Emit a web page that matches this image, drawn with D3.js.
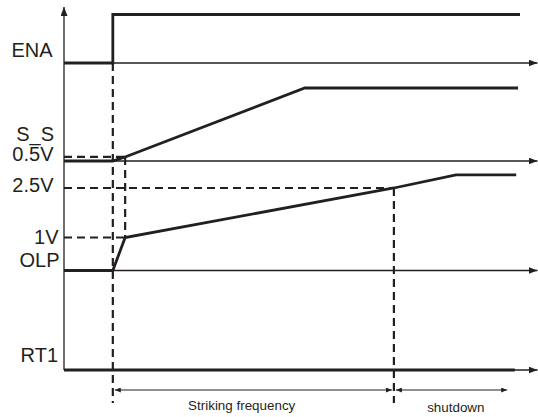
<!DOCTYPE html>
<html>
<head>
<meta charset="utf-8">
<script src="https://cdn.jsdelivr.net/npm/d3@7/dist/d3.min.js"></script>
<style>
  html, body { margin: 0; padding: 0; background: #fff; }
  svg { display: block; }
  text { font-family: "Liberation Sans", Arial, Helvetica, sans-serif; fill: #231f20; }
</style>
</head>
<body>
<svg id="chart" width="538" height="417"></svg>
<script>
// ---------------- DATA (time in % of sweep, levels in signal units) ----------------
const channels = ["ENA", "S_S", "OLP", "RT1"];
// ENA: logic 0/1
const enaTimes  = [0, 10.3, 10.3, 96.2];
const enaValues = [0, 0, 1, 1];
// S_S soft-start voltage
const ssTimes  = [0, 10.3, 12.9, 50.8, 95.8];
const ssValues = [0, 0, 0.5, 9, 9];
// OLP voltage
const olpTimes  = [0, 10.3, 12.9, 69.6, 82.7, 95.4];
const olpValues = [0, 0, 1, 2.5, 2.9, 2.9];
// RT1
const rt1Times  = [0, 95.1];
const rt1Values = [0, 0];
// Level labels
const levelLabels = ["ENA", "S_S", "0.5V", "2.5V", "1V", "OLP", "RT1"];
// Reference (dashed) levels
const ssRef   = { value: 0.5, time: 12.9 };
const olpRef1 = { value: 1,   time: 12.9 };
const olpRef2 = { value: 2.5, time: 69.6 };
const markerTimes = [10.3, 12.9, 69.6];
// Intervals
const intervalNames = ["Striking frequency", "shutdown"];
const intervalStart = [10.3, 69.6];
const intervalEnd   = [69.6, 93.5];

// ---------------- LAYOUT ----------------
const ink = "#231f20";
const svg = d3.select("#chart");
const x = d3.scaleLinear().domain([0, 100]).range([64, 538]);
const yENA = d3.scaleLinear().domain([0, 1]).range([63, 14.5]);
const ySS  = d3.scaleLinear().domain([0, 9]).range([161, 88]);
const yOLP = d3.scaleLinear().domain([0, 3]).range([270.5, 171.5]);
const yRT1 = d3.scaleLinear().domain([0, 1]).range([370, 330]);
const chanScales = [yENA, ySS, yOLP, yRT1];

const defs = svg.append("defs");
function arrowMarker(id, w, h) {
  defs.append("marker").attr("id", id)
    .attr("viewBox", `0 0 ${w} ${h}`).attr("refX", w).attr("refY", h / 2)
    .attr("markerWidth", w).attr("markerHeight", h)
    .attr("markerUnits", "userSpaceOnUse").attr("orient", "auto-start-reverse")
    .append("path").attr("d", `M0,0L${w},${h / 2}L0,${h}Z`).attr("fill", ink);
}
arrowMarker("ax", 9, 7);
arrowMarker("dim", 6, 5);

// vertical axis
svg.append("line").attr("x1", x(0)).attr("x2", x(0))
  .attr("y1", yRT1(0)).attr("y2", 7)
  .attr("stroke", ink).attr("stroke-width", 1.3).attr("marker-end", "url(#ax)");

// horizontal axes
chanScales.forEach(s => {
  svg.append("line").attr("x1", x(0)).attr("x2", x(100) - 0.5)
    .attr("y1", s(0)).attr("y2", s(0))
    .attr("stroke", ink).attr("stroke-width", 1.3).attr("marker-end", "url(#ax)");
});

// dashed guides
const dash = { "stroke": ink, "stroke-width": 2.2, "stroke-dasharray": "8,5", "fill": "none" };
function dashed(x1, y1, x2, y2) {
  const l = svg.append("line").attr("x1", x1).attr("y1", y1).attr("x2", x2).attr("y2", y2);
  Object.entries(dash).forEach(([k, v]) => l.attr(k, v));
}
dashed(x(markerTimes[0]), yENA(0), x(markerTimes[0]), 403);
dashed(x(markerTimes[1]), ySS(ssRef.value), x(markerTimes[1]), yOLP(olpRef1.value));
dashed(x(markerTimes[2]), yOLP(olpRef2.value), x(markerTimes[2]), 403);
dashed(x(0), ySS(ssRef.value), x(ssRef.time), ySS(ssRef.value));
dashed(x(0), yOLP(olpRef2.value), x(olpRef2.time), yOLP(olpRef2.value));
dashed(x(0), yOLP(olpRef1.value), x(olpRef1.time), yOLP(olpRef1.value));

// signal traces
const traces = [
  [enaTimes, enaValues, yENA],
  [ssTimes, ssValues, ySS],
  [olpTimes, olpValues, yOLP],
  [rt1Times, rt1Values, yRT1]
];
traces.forEach(([ts, vs, ys]) => {
  const line = d3.line().x(d => x(d[0])).y(d => ys(d[1]));
  svg.append("path").attr("d", line(ts.map((t, i) => [t, vs[i]])))
    .attr("fill", "none").attr("stroke", ink).attr("stroke-width", 2.8)
    .attr("stroke-linejoin", "miter");
});

// labels
const labelPos = [
  [52.5, 56.5], [54, 140.5], [53.5, 161], [53.5, 191.5], [58.5, 244], [59.5, 266.5], [58, 361.5]
];
levelLabels.forEach((t, i) => {
  svg.append("text").attr("x", labelPos[i][0]).attr("y", labelPos[i][1])
    .attr("text-anchor", "end").attr("font-size", 20).text(t);
});

// interval dimension arrows
const dimY = 390;
intervalNames.forEach((name, i) => {
  svg.append("line")
    .attr("x1", x(intervalStart[i]) + 2).attr("x2", x(intervalEnd[i]) - (i === 0 ? 2 : 0))
    .attr("y1", dimY).attr("y2", dimY)
    .attr("stroke", ink).attr("stroke-width", 1)
    .attr("marker-start", "url(#dim)").attr("marker-end", "url(#dim)");
});
const textPos = [[241.7, 410], [455.8, 411.5]];
intervalNames.forEach((name, i) => {
  svg.append("text").attr("x", textPos[i][0]).attr("y", textPos[i][1])
    .attr("text-anchor", "middle").attr("font-size", 13.4).text(name);
});
</script>
</body>
</html>
